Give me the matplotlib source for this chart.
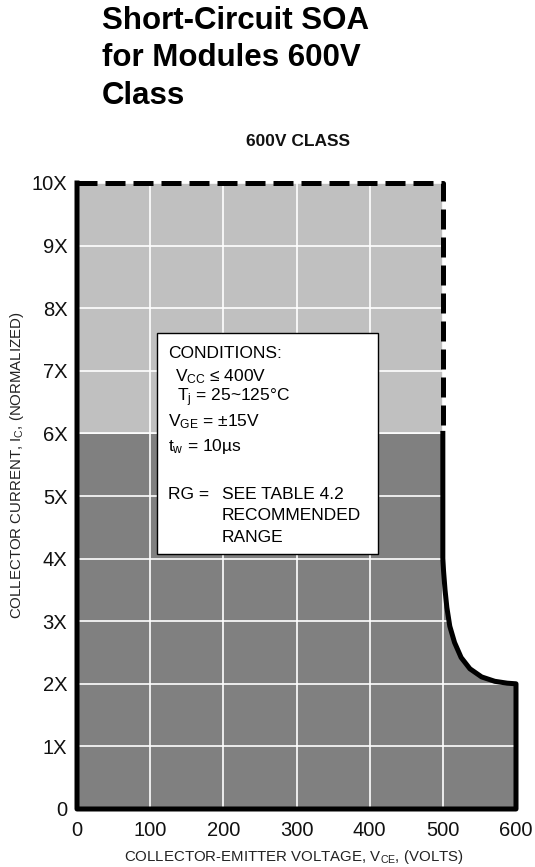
import numpy as np
import matplotlib
matplotlib.use('Agg')
import matplotlib.pyplot as plt
from matplotlib.patches import Rectangle

plt.rcParams['font.family'] = ['Liberation Sans', 'DejaVu Sans']
plt.rcParams['mathtext.fontset'] = 'custom'
plt.rcParams['mathtext.rm'] = 'Liberation Sans'
plt.rcParams['mathtext.it'] = 'Liberation Sans'

# SOA boundary (VCE in volts, IC normalized)
vce_limit = [0, 500, 500, 501, 503, 505.5, 509.5, 516, 525, 537, 553, 571, 588, 600]
ic_limit = [10, 10, 4.0, 3.8, 3.5, 3.22, 2.92, 2.66, 2.42, 2.24, 2.11, 2.04, 2.01, 2.0]
ic_split = 6  # above this: light region and dashed outline

x_ticks = [0, 100, 200, 300, 400, 500, 600]
y_ticks = [0, 1, 2, 3, 4, 5, 6, 7, 8, 9, 10]
y_ticklabels = ['0', '1X', '2X', '3X', '4X', '5X', '6X', '7X', '8X', '9X', '10X']

light = '#c0c0c0'
dark = '#808080'

fig = plt.figure(figsize=(5.35, 8.67), dpi=100)
ax = fig.add_axes([77 / 535, 1 - 809 / 867, 439 / 535, 626 / 867])

x = np.array(vce_limit, dtype=float)
y = np.array(ic_limit, dtype=float)

# shaded regions
ax.fill_between(x, 0, np.minimum(y, ic_split), color=dark, lw=0, zorder=0)
ax.fill_between(x, ic_split, np.maximum(y, ic_split), color=light, lw=0, zorder=0)

ax.set_xlim(x_ticks[0], x_ticks[-1])
ax.set_ylim(y_ticks[0], y_ticks[-1])
ax.set_xticks(x_ticks)
ax.set_yticks(y_ticks)
ax.set_yticklabels(y_ticklabels)
ax.tick_params(length=0, labelsize=14.5, colors='#111111')
ax.tick_params(axis='y', pad=7)
ax.tick_params(axis='x', pad=9)
ax.grid(True, color='white', lw=1.2)
for s in ax.spines.values():
    s.set_visible(False)

# outline: dashed where IC >= split, solid elsewhere
i_split = 2
dash_x = list(x[:i_split]) + [x[i_split]]
dash_y = list(y[:i_split]) + [ic_split]
ax.plot(dash_x, dash_y, color='black', lw=3.6, dashes=(4, 1.6),
        clip_on=False, zorder=3)
solid_x = [x[i_split]] + list(x[i_split:]) + [x[-1], x[0], x[0]]
solid_y = [ic_split] + list(y[i_split:]) + [0, 0, y[0]]
ax.plot(solid_x, solid_y, color='black', lw=3.6, solid_joinstyle='round',
        clip_on=False, zorder=3)

# conditions box
ax.add_patch(Rectangle((109, 4.08), 302, 3.52, facecolor='white',
                       edgecolor='black', lw=1, zorder=4))
fs = 12.5
tx = 124
ax.text(tx, 7.20, 'CONDITIONS:', fontsize=fs, va='baseline', zorder=5)
ax.text(134, 6.84, r'V$_{\mathregular{CC}}$ ≤ 400V', fontsize=fs, va='baseline', zorder=5)
ax.text(136, 6.51, r'T$_{\mathregular{j}}$ = 25~125°C', fontsize=fs, va='baseline', zorder=5)
ax.text(tx, 6.12, r'V$_{\mathregular{GE}}$ = ±15V', fontsize=fs, va='baseline', zorder=5)
ax.text(tx, 5.72, r't$_{\mathregular{w}}$ = 10µs', fontsize=fs, va='baseline', zorder=5)
ax.text(tx, 4.96, 'RG =', fontsize=fs, va='baseline', zorder=5)
ax.text(198, 4.96, 'SEE TABLE 4.2', fontsize=fs, va='baseline', zorder=5)
ax.text(198, 4.61, 'RECOMMENDED', fontsize=fs, va='baseline', zorder=5)
ax.text(198, 4.26, 'RANGE', fontsize=fs, va='baseline', zorder=5)

# axis labels
fig.text(294 / 535, 1 - 857 / 867, r'COLLECTOR-EMITTER VOLTAGE, V$_{\mathregular{CE}}$, (VOLTS)',
         fontsize=10.8, ha='center', va='center', color='#222222')
fig.text(17 / 535, 1 - 465 / 867, r'COLLECTOR CURRENT, I$_{\mathregular{C}}$, (NORMALIZED)',
         fontsize=10.8, ha='center', va='center', rotation=90, color='#222222')

# titles
fig.text(102 / 535, 1 - 6 / 867, 'Short-Circuit SOA\nfor Modules 600V\nClass',
         fontsize=22.5, fontweight='bold', ha='left', va='top', linespacing=1.32)
fig.text(298 / 535, 1 - 142 / 867, '600V CLASS', fontsize=12.5, fontweight='bold',
         ha='center', va='center', color='#111111')

fig.savefig('out.png', dpi=100)
